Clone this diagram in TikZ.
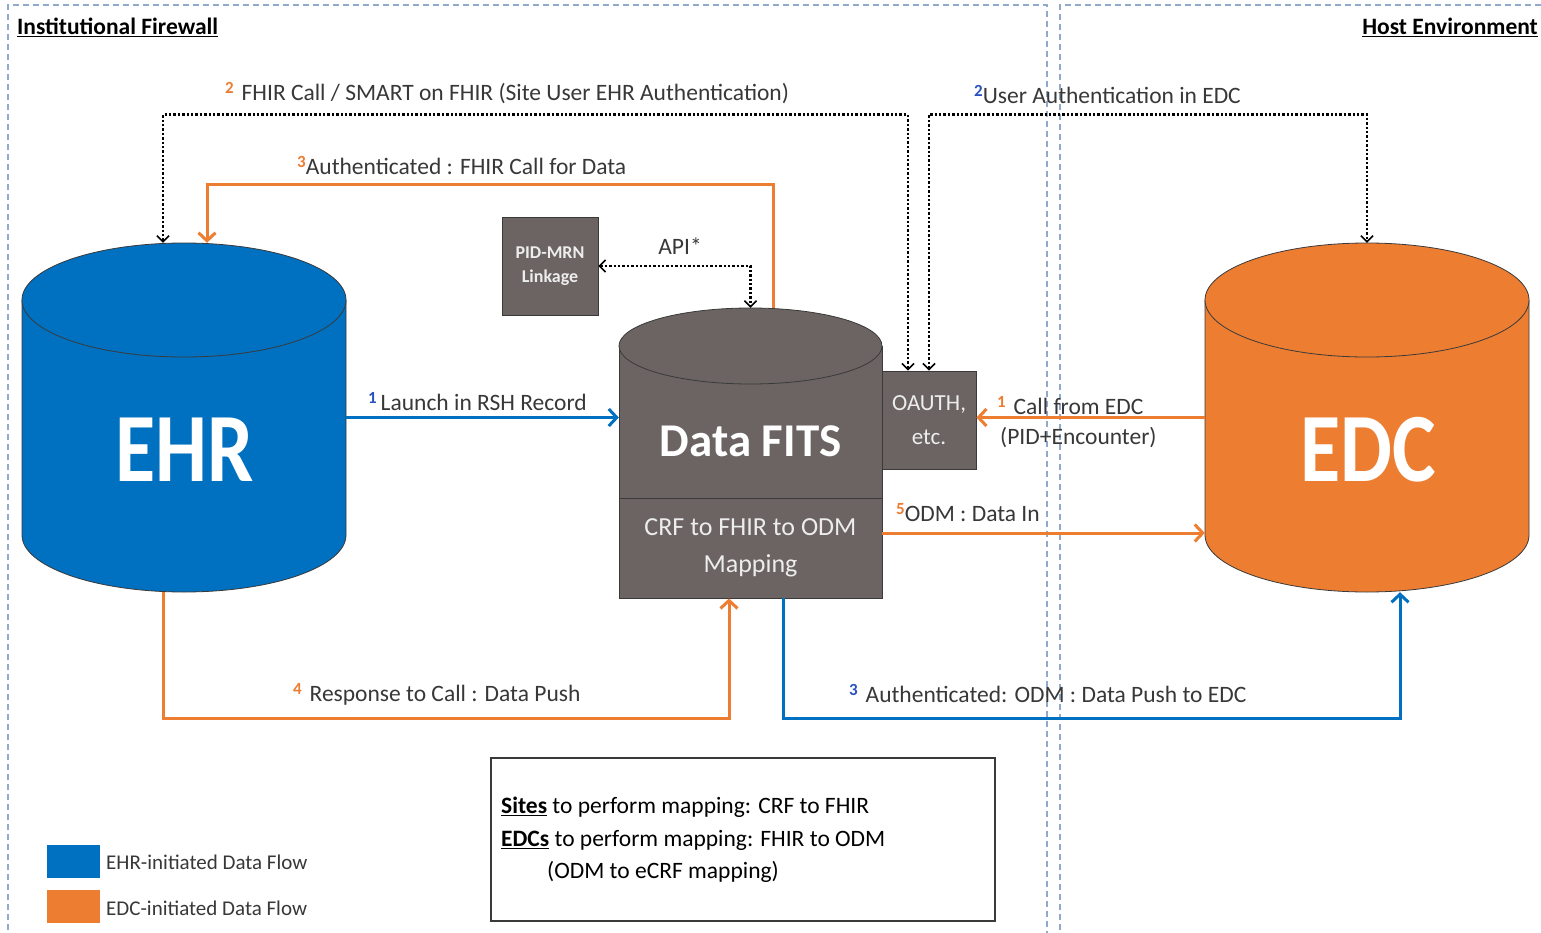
\documentclass[tikz,border=0pt]{standalone}
\usepackage{fontspec}
\setmainfont{Carlito}
\newfontfamily\narrowfont[FakeStretch=0.84]{Carlito}
\usetikzlibrary{arrows.meta,calc}

\definecolor{ehrblue}{HTML}{0070C0}
\definecolor{edcorange}{HTML}{ED7D31}
\definecolor{fitsgray}{HTML}{6B6463}
\definecolor{labelgray}{HTML}{383838}
\definecolor{zoneline}{HTML}{8FAACB}
\definecolor{outline}{HTML}{3A3A3A}
\definecolor{paletext}{HTML}{EDEDED}
\definecolor{stepblue}{HTML}{2A52BE}

% small coloured step number set before a flow label
\newcommand\stepnum[2]{\textcolor{#1}{\bfseries\fontsize{17}{17}\selectfont\raisebox{7pt}{#2}}}

\begin{document}
\begin{tikzpicture}[x=1pt,y=-1pt,
  every node/.style={font=\fontsize{23.5}{28}\selectfont, text=labelgray, inner sep=0pt},
  zone/.style={draw=zoneline, line width=1.3pt, dash pattern=on 6pt off 4pt},
  shell/.style={draw=outline, line width=0.8pt},
  graybox/.style={shell, fill=fitsgray, text=paletext, align=center},
  flow/.style={line width=3pt, -{Straight Barb[length=8pt,width=17pt]}},
  ehrflow/.style={flow, draw=ehrblue},
  edcflow/.style={flow, draw=edcorange},
  dotflow/.style={draw=black, line width=2.8pt, dash pattern=on 2.4pt off 2pt,
    {Straight Barb[length=6pt,width=12pt,line width=1.6pt]}-{Straight Barb[length=6pt,width=12pt,line width=1.6pt]}},
  biglabel/.style={text=white, font=\narrowfont\bfseries\fontsize{98}{98}\selectfont},
  legendbox/.style={minimum width=53pt, minimum height=33pt}
]
\useasboundingbox (0,0) rectangle (1541,933);
\fill[white] (0,0) rectangle (1541,933);

% firewall and host zones
\draw[zone] (8,940) -- (8,5) -- (1047,5) -- (1047,940);
\draw[zone] (1060,940) -- (1060,5) -- (1550,5);
\node[anchor=west, text=black] (fwtitle) at (17,27) {\underline{\bfseries Institutional Firewall}};
\node[anchor=east, text=black] (hosttitle) at (1538,27) {\underline{\bfseries Host Environment}};

% EHR database
\filldraw[shell, fill=ehrblue] (22,300) -- (22,535) arc[start angle=180, end angle=0, x radius=162, y radius=57] -- (346,300);
\filldraw[shell, fill=ehrblue] (184,300) ellipse[x radius=162, y radius=57];
\node[minimum width=324pt, minimum height=349pt] (ehr) at (184,417.5) {};
\node[biglabel] (ehrtext) at (185,450) {EHR};

% EDC database
\filldraw[shell, fill=edcorange] (1205,300) -- (1205,535) arc[start angle=180, end angle=0, x radius=162, y radius=57] -- (1529,300);
\filldraw[shell, fill=edcorange] (1367,300) ellipse[x radius=162, y radius=57];
\node[minimum width=324pt, minimum height=349pt] (edc) at (1367,417.5) {};
\node[biglabel] (edctext) at (1368,450) {EDC};

% Data FITS store with its mapping layer
\filldraw[shell, fill=fitsgray] (619,346) -- (619,498) -- (882,498) -- (882,346);
\filldraw[shell, fill=fitsgray] (750.5,346) ellipse[x radius=131.5, y radius=38];
\node[minimum width=263pt, minimum height=190pt] (fits) at (750.5,403) {};
\node[text=white, font=\bfseries\fontsize{47}{47}\selectfont] (fitstext) at (750.5,441) {Data FITS};
\node[graybox, minimum width=263pt, minimum height=100pt,
      font=\fontsize{26}{37}\selectfont] (crf) at (750.5,548) {CRF to FHIR to ODM\\Mapping};

\node[graybox, minimum width=94pt, minimum height=98pt,
      font=\fontsize{23}{34}\selectfont] (oauth) at (929,420) {OAUTH,\\etc.};
\node[graybox, minimum width=96pt, minimum height=98pt,
      font=\bfseries\fontsize{18}{24}\selectfont] (pid) at (550,266) {PID-MRN\\Linkage};

% flows
\draw[ehrflow] (ehr.east) -- (ehr.east -| fits.west);
\draw[dotflow] ([xshift=-21pt]ehr.north) -- ++(0,-128) -| ([xshift=-21pt]oauth.north);
\draw[dotflow] (oauth.north) -- ++(0,-256) -| (edc.north);
\draw[edcflow] ([xshift=22.5pt]fits.north) -- ++(0,-123) -| ([xshift=23pt]ehr.north);
\draw[dotflow] (pid.east) -| (fits.north);
\draw[edcflow] (edc.west) -- (edc.west -| oauth.east);
\draw[edcflow] ([yshift=15pt]crf.east) -- ([yshift=15pt]crf.east -| edc.west);
\draw[edcflow] ([xshift=-21pt]ehr.south) -- ++(0,126) -| ([xshift=-21.5pt]crf.south);
\draw[ehrflow] ([xshift=32.5pt]crf.south) -- ++(0,120) -| ([xshift=33pt]edc.south);

% flow labels
\node[anchor=west] (l2a) at (225,93) {\stepnum{edcorange}{2}\,\,FHIR Call / SMART on FHIR (Site User EHR Authentication)};
\node[anchor=west] (l2b) at (974,95) {\stepnum{stepblue}{2}User Authentication in EDC};
\node[anchor=west] (l3a) at (297,166) {\stepnum{edcorange}{3}Authenticated : FHIR Call for Data};
\node (lapi) at (680,246) {API*};
\node[anchor=west] (l1a) at (368,402) {\stepnum{stepblue}{1}\,Launch in RSH Record};
\node[anchor=west] (l1b) at (997,406) {\stepnum{edcorange}{1}\,\,Call from EDC};
\node[anchor=west] (l1c) at (1000,438) {(PID+Encounter)};
\node[anchor=west] (l5) at (896,513) {\stepnum{edcorange}{5}ODM : Data In};
\node[anchor=west] (l4) at (293,694) {\stepnum{edcorange}{4}\,\,Response to Call : Data Push};
\node[anchor=west] (l3b) at (849,694) {\stepnum{stepblue}{3}\,\,Authenticated: ODM : Data Push to EDC};

% mapping responsibilities note
\draw[draw=outline, line width=1.2pt] (491,758) rectangle (995,921);
\node[anchor=west, align=left, text=black, font=\fontsize{23.5}{32.5}\selectfont] (note) at (501,840)
  {\underline{\bfseries Sites} to perform mapping: CRF to FHIR\\
   \underline{\bfseries EDCs} to perform mapping: FHIR to ODM\\
   \hspace*{46pt}(ODM to eCRF mapping)};

% legend
\node[legendbox, fill=ehrblue] (legehr) at (73.5,861.5) {};
\node[legendbox, fill=edcorange] (legedc) at (73.5,906) {};
\node[anchor=west, font=\fontsize{21}{21}\selectfont] (legehrtext) at (106,862) {EHR-initiated Data Flow};
\node[anchor=west, font=\fontsize{21}{21}\selectfont] (legedctext) at (106,908) {EDC-initiated Data Flow};
\end{tikzpicture}
\end{document}
